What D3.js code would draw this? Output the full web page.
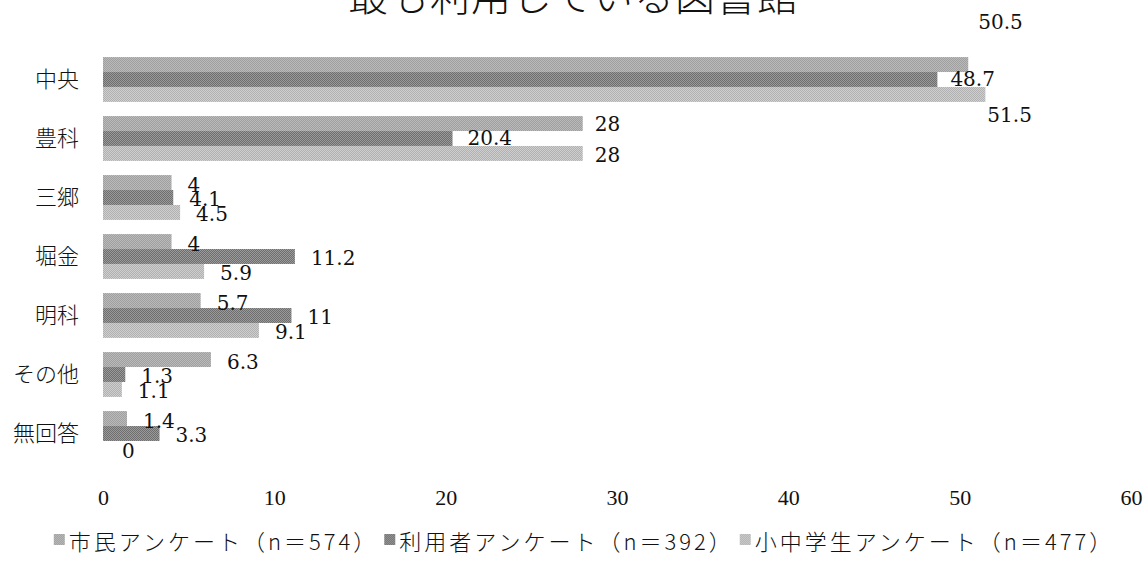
<!DOCTYPE html>
<html lang="ja">
<head>
<meta charset="utf-8">
<script src="https://cdn.jsdelivr.net/npm/d3@7"></script>
<style>
  html, body { margin: 0; padding: 0; background: #fff; }
  svg { display: block; }
</style>
</head>
<body>
<svg id="chart" width="1147" height="563"></svg>
<script>
// Library names (rows) and survey series
const libraries = ["中央", "豊科", "三郷", "堀金", "明科", "その他", "無回答"];
const seriesNames = ["市民アンケート（n＝574）", "利用者アンケート（n＝392）", "小中学生アンケート（n＝477）"];
const citizenValues = [50.5, 28, 4, 4, 5.7, 6.3, 1.4];
const userValues    = [48.7, 20.4, 4.1, 11.2, 11, 1.3, 3.3];
const studentValues = [51.5, 28, 4.5, 5.9, 9.1, 1.1, 0];
const xTicks = [0, 10, 20, 30, 40, 50, 60];
const titleText = "最も利用している図書館";

// Hand-placed label nudges (dx, dy from the default spot at the bar end)
const labelNudge = {
  "0-0": [10, -43], "0-1": [13, 0], "0-2": [2, 21],
  "1-0": [12, 0], "1-1": [15, 0], "1-2": [12, 2],
  "6-2": [19, 3]
};

const series = [citizenValues, userValues, studentValues];
// two-tone halftone fills per series
const tones = [["#9c9c9c", "#bdbdbd"], ["#6a6a6a", "#9e9e9e"], ["#adadad", "#d2d2d2"]];

const svg = d3.select("#chart");

// dithered pattern fills
const defs = svg.append("defs");
tones.forEach((t, i) => {
  const p = defs.append("pattern").attr("id", "tone" + i)
    .attr("width", 2).attr("height", 2).attr("patternUnits", "userSpaceOnUse");
  p.append("rect").attr("width", 2).attr("height", 2).attr("fill", t[0]);
  p.append("rect").attr("width", 1).attr("height", 1).attr("fill", t[1]);
  p.append("rect").attr("x", 1).attr("y", 1).attr("width", 1).attr("height", 1).attr("fill", t[1]);
});

const x = d3.scaleLinear().domain([0, 60]).range([103, 1131]);
const y = d3.scaleBand().domain(libraries).range([50, 463]).paddingInner(0.24).paddingOuter(0.12);
const ySub = d3.scaleBand().domain(d3.range(series.length)).range([0, y.bandwidth()]);

// title (runs off the top edge)
svg.append("text")
  .attr("x", 573).attr("y", 11)
  .attr("text-anchor", "middle")
  .attr("font-family", "'Noto Sans CJK JP'")
  .attr("font-size", 40).attr("font-weight", 300)
  .attr("letter-spacing", 1)
  .attr("fill", "#111")
  .text(titleText);

// bars
const groups = svg.append("g").selectAll("g")
  .data(libraries).join("g")
  .attr("transform", d => `translate(0,${y(d)})`);

groups.selectAll("rect")
  .data((d, r) => series.map((s, k) => ({ k, r, v: s[r] })))
  .join("rect")
  .attr("x", x(0))
  .attr("y", d => ySub(d.k))
  .attr("width", d => x(d.v) - x(0))
  .attr("height", ySub.bandwidth())
  .attr("fill", d => `url(#tone${d.k})`);

// value labels
groups.selectAll("text.val")
  .data((d, r) => series.map((s, k) => ({ k, r, v: s[r] })))
  .join("text")
  .attr("class", "val")
  .attr("x", d => x(d.v) + (labelNudge[d.r + "-" + d.k] || [16, 2])[0])
  .attr("y", d => ySub(d.k) + ySub.bandwidth() / 2 + (labelNudge[d.r + "-" + d.k] || [16, 2])[1])
  .attr("dominant-baseline", "central")
  .attr("font-family", "'DejaVu Serif'")
  .attr("font-size", 20)
  .attr("fill", "#111")
  .text(d => d.v);

// category axis
const yAxis = svg.append("g")
  .attr("transform", `translate(${x(0) - 6},0)`)
  .call(d3.axisLeft(y).tickSize(0).tickPadding(18));
yAxis.select(".domain").remove();
yAxis.selectAll("text")
  .attr("font-family", "'Noto Sans CJK JP'")
  .attr("font-size", 22).attr("font-weight", 300)
  .attr("fill", "#111")
  .attr("dy", "0.35em");

// value axis (labels only)
const xAxis = svg.append("g")
  .attr("transform", "translate(0,497)")
  .call(d3.axisBottom(x).tickValues(xTicks).tickSize(0).tickPadding(0));
xAxis.select(".domain").remove();
xAxis.selectAll("text")
  .attr("font-family", "'Liberation Serif'")
  .attr("font-size", 22)
  .attr("fill", "#111")
  .attr("dy", "0.35em");

// legend
const legend = svg.append("g").attr("transform", "translate(0,540)");
const items = legend.selectAll("g").data(seriesNames).join("g");
items.append("rect")
  .attr("y", -6).attr("width", 11).attr("height", 11)
  .attr("fill", (d, i) => `url(#tone${i})`);
items.append("text")
  .attr("x", 15)
  .attr("dominant-baseline", "central")
  .attr("font-family", "'Noto Sans CJK JP'")
  .attr("font-size", 22).attr("font-weight", 300)
  .attr("letter-spacing", 3)
  .attr("fill", "#111")
  .text(d => d);
let offset = 0;
const positions = [];
items.each(function () {
  positions.push(offset);
  offset += this.getBBox().width + 6;
});
const legendStart = (58 + 1110) / 2 - (offset - 6) / 2;
items.attr("transform", (d, i) => `translate(${legendStart + positions[i]},0)`);
</script>
</body>
</html>
